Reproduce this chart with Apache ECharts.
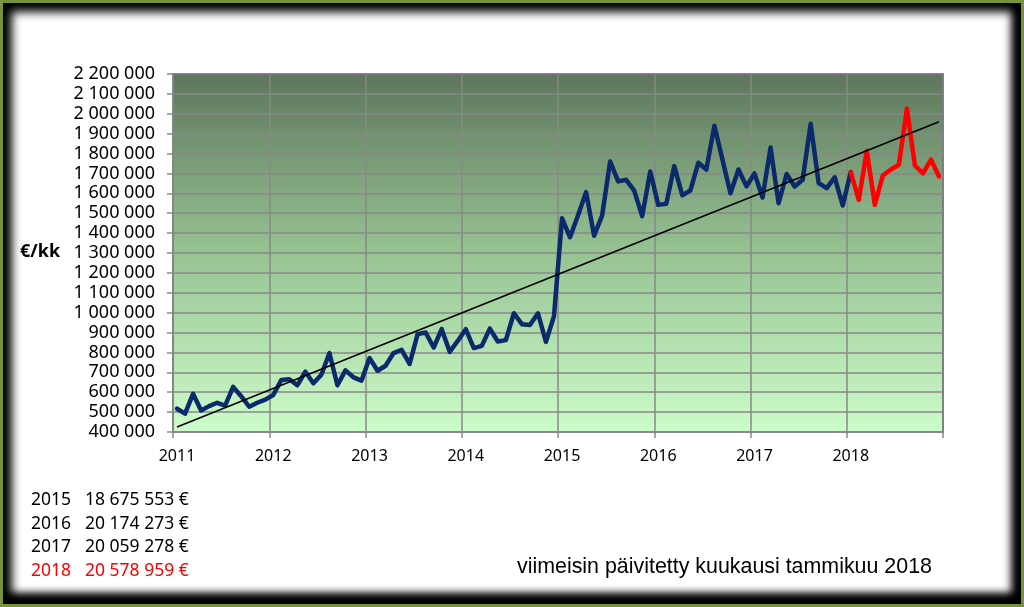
<!DOCTYPE html>
<html>
<head>
<meta charset="utf-8">
<script src="https://cdn.jsdelivr.net/npm/echarts@6/dist/echarts.min.js"></script>
<style>
  html, body { margin: 0; padding: 0; width: 1024px; height: 607px; overflow: hidden; background: #76923c; }
  #frame { position: absolute; left: 3px; top: 3px; width: 1018px; height: 601px; background: #ffffff;
    box-shadow: inset 0 0 10px 9px #000, inset -5px -9px 10px 0 #000; }
  #chart { position: absolute; left: 0; top: 0; width: 1024px; height: 607px; }
</style>
</head>
<body>
<div id="frame"></div>
<div id="chart"></div>
<script>
// ---- data ----
const years = ['2011','2012','2013','2014','2015','2016','2017','2018'];
const months = ['01','02','03','04','05','06','07','08','09','10','11','12'];

// monthly values 2011-01 .. 2018-01 (blue)
const values2011 = [517000, 492000, 592000, 508000, 530000, 547000, 533000, 627000, 580000, 527000, 547000, 563000];
const values2012 = [586000, 661000, 665000, 635000, 703000, 645000, 688000, 797000, 635000, 710000, 675000, 658000];
const values2013 = [772000, 708000, 733000, 797000, 813000, 742000, 892000, 900000, 825000, 917000, 803000, 858000];
const values2014 = [917000, 822000, 833000, 920000, 855000, 862000, 997000, 942000, 938000, 997000, 853000, 983000];
const values2015 = [1475000, 1379000, 1490000, 1606000, 1387000, 1488000, 1760000, 1660000, 1668000, 1614000, 1485000, 1710000];
const values2016 = [1542000, 1547000, 1737000, 1590000, 1614000, 1754000, 1720000, 1940000, 1770000, 1600000, 1720000, 1635000];
const values2017 = [1700000, 1579000, 1830000, 1550000, 1697000, 1634000, 1668000, 1950000, 1651000, 1626000, 1680000, 1539000];
const valuesJan2018 = [1707000];

// 2018 (red), 2018-01 .. 2018-12
const values2018 = [1707000, 1567000, 1814000, 1542000, 1690000, 1720000, 1744000, 2026000, 1740000, 1700000, 1770000, 1685000];

// linear trend line end points
const trendStart = ['2011-01', 425000];
const trendEnd = ['2018-12', 1960000];

// y axis
const yMin = 400000, yMax = 2200000, yStep = 100000;

// yearly totals text
const totalYears = ['2015', '2016', '2017', '2018'];
const totalTexts = ['18 675 553 €', '20 174 273 €', '20 059 278 €', '20 578 959 €'];
const totalColors = ['#000000', '#000000', '#000000', '#ff0000'];

const yLabelText = '€/kk';
const noteText = 'viimeisin päivitetty kuukausi tammikuu 2018';

// ---- build ----
const categories = [];
years.forEach(y => months.forEach(m => categories.push(y + '-' + m)));

const blueValues = [].concat(values2011, values2012, values2013, values2014, values2015, values2016, values2017, valuesJan2018);
const blueData = categories.map((c, i) => i < blueValues.length ? blueValues[i] : '-');
const redOffset = categories.indexOf('2018-01');
const redData = categories.map((c, i) => (i >= redOffset && i - redOffset < values2018.length) ? values2018[i - redOffset] : '-');

const fmt = v => String(v).replace(/\B(?=(\d{3})+(?!\d))/g, ' ');

const font = '"Noto Sans", "Open Sans", sans-serif';
const gridColor = '#898989';

const graphics = [];
graphics.push({ type: 'text', left: 20, top: 243, style: { text: yLabelText, font: 'bold 18px ' + font, fill: '#000' } });
totalYears.forEach((y, k) => {
  graphics.push({ type: 'text', left: 31, top: 491 + k * 23.7, style: { text: y, font: '17.5px ' + font, fill: totalColors[k] } });
  graphics.push({ type: 'text', left: 85, top: 491 + k * 23.7, style: { text: totalTexts[k], font: '17.5px ' + font, fill: totalColors[k] } });
});
graphics.push({ type: 'text', left: 517, top: 557, style: { text: noteText, font: '21.4px "Liberation Sans", Arial, sans-serif', fill: '#000' } });

const chart = echarts.init(document.getElementById('chart'), null, { renderer: 'canvas' });
chart.setOption({
  backgroundColor: 'transparent',
  animation: false,
  grid: {
    left: 173, top: 74, width: 770, height: 358,
    show: true,
    backgroundColor: new echarts.graphic.LinearGradient(0, 0, 0, 1, [
      { offset: 0, color: '#5d765c' },
      { offset: 0.5, color: '#97c393' },
      { offset: 1, color: '#cdfdca' }
    ]),
    borderColor: '#33435a', borderWidth: 1.5
  },
  xAxis: {
    type: 'category',
    data: categories,
    boundaryGap: true,
    axisLine: { lineStyle: { color: gridColor, width: 1.5 } },
    axisTick: { show: true, interval: 11, length: 6, lineStyle: { color: gridColor, width: 1.5 } },
    axisLabel: { interval: 11, margin: 16, formatter: v => v.slice(0, 4), fontFamily: font, fontSize: 16, color: '#000' },
    splitLine: { show: true, interval: 11, lineStyle: { color: gridColor, width: 1.5 } }
  },
  yAxis: {
    type: 'value',
    min: yMin, max: yMax, interval: yStep,
    axisLine: { show: true, lineStyle: { color: gridColor, width: 1.5 } },
    axisTick: { show: true, length: 6, lineStyle: { color: gridColor, width: 1.5 } },
    axisLabel: { margin: 18, formatter: fmt, fontFamily: font, fontSize: 18, color: '#000' },
    splitLine: { show: true, lineStyle: { color: gridColor, width: 1.5 } }
  },
  series: [
    { type: 'line', data: blueData, showSymbol: false, symbol: 'none', z: 3,
      lineStyle: { color: '#0b2a6b', width: 4.5, cap: 'round', join: 'round' } },
    { type: 'line', data: redData, showSymbol: false, symbol: 'none', z: 4,
      lineStyle: { color: '#ff0000', width: 4.5, cap: 'round', join: 'round' } },
    { type: 'line', data: [trendStart, trendEnd], showSymbol: false, symbol: 'none', z: 5,
      lineStyle: { color: '#000000', width: 1.5 } }
  ],
  graphic: graphics
});
</script>
</body>
</html>
